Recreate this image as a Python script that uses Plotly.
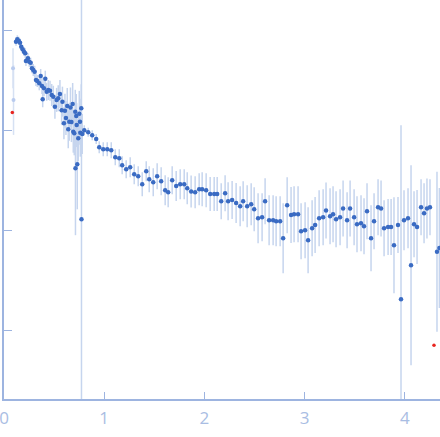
import numpy as np
import plotly.graph_objects as go

# --- DATA ---
# low-q block: dense, noisy points
q_low = [0.120, 0.133, 0.147, 0.160, 0.172, 0.186, 0.199, 0.212, 0.219, 0.239,
         0.252, 0.266, 0.279, 0.292, 0.306, 0.319, 0.332, 0.352, 0.366, 0.379,
         0.386, 0.399, 0.412, 0.426, 0.442, 0.459, 0.476, 0.492, 0.508, 0.525,
         0.541, 0.558, 0.575, 0.583, 0.598, 0.608, 0.618, 0.631, 0.641, 0.651,
         0.663, 0.673, 0.685, 0.691, 0.701, 0.711, 0.713, 0.721, 0.725, 0.731,
         0.741, 0.751, 0.758, 0.761, 0.771, 0.773, 0.781, 0.801]
i_low = [0.764, 0.807, 0.782, 0.746, 0.681, 0.641, 0.607, 0.585, 0.490, 0.521,
         0.481, 0.471, 0.415, 0.398, 0.382, 0.316, 0.309, 0.293, 0.347, 0.275,
         0.203, 0.261, 0.326, 0.241, 0.251, 0.247, 0.224, 0.215, 0.171, 0.200,
         0.208, 0.229, 0.158, 0.192, 0.117, 0.156, 0.132, 0.174, 0.102, 0.121,
         0.168, 0.120, 0.182, 0.0962, 0.0927, 0.152, 0.0415, 0.138, 0.112, 0.0454,
         0.0825, 0.145, 0.121, 0.0940, 0.165, 0.0128, 0.0912, 0.0993]
# error half-width in decades
e_low = [0.04, 0.04, 0.04, 0.04, 0.04, 0.04, 0.04, 0.05, 0.05, 0.05,
         0.05, 0.05, 0.05, 0.06, 0.06, 0.06, 0.06, 0.07, 0.07, 0.08,
         0.08, 0.08, 0.08, 0.09, 0.10, 0.10, 0.11, 0.11, 0.12, 0.12,
         0.13, 0.14, 0.15, 0.15, 0.16, 0.17, 0.17, 0.18, 0.19, 0.19,
         0.20, 0.20, 0.21, 0.21, 0.22, 0.22, 0.67, 0.22, 0.22, 0.45,
         0.23, 0.23, 0.23, 0.24, 0.24, 2.5, 0.20, 0.05]

# high-q block
q_high = [0.840, 0.880, 0.920, 0.950,
          0.990, 1.030, 1.070, 1.110, 1.150, 1.179, 1.219, 1.259, 1.299, 1.339, 1.379, 1.419,
          1.449, 1.489, 1.528, 1.568, 1.608, 1.638, 1.678, 1.718, 1.758, 1.798,
          1.828, 1.867, 1.907, 1.947, 1.977, 2.017, 2.057, 2.097, 2.127,
          2.167, 2.206, 2.236, 2.276, 2.316, 2.356, 2.386, 2.426, 2.466, 2.496,
          2.535, 2.575, 2.605, 2.645, 2.685, 2.715, 2.755,
          2.785,
          2.825, 2.864, 2.894, 2.934, 2.964, 3.004, 3.034, 3.074, 3.104, 3.144,
          3.184, 3.213, 3.253, 3.283, 3.313, 3.353, 3.383, 3.423, 3.453, 3.493,
          3.522, 3.562, 3.592, 3.622, 3.662, 3.692, 3.732, 3.762, 3.792, 3.832,
          3.862, 3.891, 3.931,
          3.961,
          3.991, 4.031, 4.061, 4.091, 4.121, 4.161, 4.191, 4.220, 4.250,
          4.320, 4.344]
i_high = [0.0947, 0.0885, 0.0811, 0.0673,
          0.0643, 0.0643, 0.0628, 0.0534, 0.0522, 0.0445, 0.0406, 0.0425, 0.0360, 0.0344, 0.0286, 0.0386,
          0.0321, 0.0300, 0.0344, 0.0307, 0.0250, 0.0238, 0.0314, 0.0275, 0.0286, 0.0286,
          0.0261, 0.0243, 0.0238, 0.0255, 0.0255, 0.0250, 0.0229, 0.0229, 0.0229,
          0.0194, 0.0233, 0.0194, 0.0199, 0.0186, 0.0173, 0.0194, 0.0173, 0.0181, 0.0161,
          0.0131, 0.0134, 0.0194, 0.0125, 0.0125, 0.0122, 0.0122,
          0.00829,
          0.0177, 0.0141, 0.0144, 0.0144, 0.00973, 0.00995, 0.00790, 0.0104, 0.0112, 0.0131,
          0.0134, 0.0157, 0.0137, 0.0144, 0.0128, 0.0134, 0.0164, 0.0125, 0.0164, 0.0134,
          0.0114, 0.0117, 0.0109, 0.0154, 0.00829, 0.0122, 0.0169, 0.0164, 0.0104, 0.0107,
          0.0107, 0.00702, 0.0112,
          0.00203,
          0.0125, 0.0131, 0.00443, 0.0114, 0.0107, 0.0169, 0.0147, 0.0164, 0.0169,
          0.00605, 0.00661]
e_high = [0.045, 0.05, 0.05, 0.06,
          0.07, 0.07, 0.08, 0.08, 0.09, 0.09, 0.09, 0.10, 0.10, 0.10, 0.12, 0.10,
          0.13, 0.14, 0.13, 0.14, 0.15, 0.15, 0.14, 0.15, 0.15, 0.15,
          0.16, 0.16, 0.16, 0.16, 0.17, 0.17, 0.17, 0.17, 0.17,
          0.18, 0.18, 0.19, 0.19, 0.20, 0.20, 0.20, 0.21, 0.21, 0.22,
          0.25, 0.24, 0.23, 0.25, 0.25, 0.25, 0.25,
          0.35,
          0.28, 0.28, 0.28, 0.28, 0.28, 0.28, 0.33, 0.28, 0.28, 0.28,
          0.28, 0.28, 0.28, 0.28, 0.28, 0.28, 0.28, 0.28, 0.28, 0.28,
          0.28, 0.28, 0.28, 0.28, 0.33, 0.28, 0.28, 0.28, 0.28, 0.28,
          0.28, 0.48, 0.28,
          1.74,
          0.30, 0.30, 1.00, 0.33, 0.37, 0.28, 0.30, 0.30, 0.28,
          0.80, 0.60]

# faded (excluded) and outlier points
q_faded = [0.090, 0.095]
i_faded = [0.415, 0.200]
e_faded = [0.20, 0.35]
q_out = [0.083, 4.290]
i_out = [0.150, 0.000703]

x_ticks = [0, 1, 2, 3, 4]
y_ticks = [1, 0.1, 0.01, 0.001]

BLUE = "#3a6bc3"
BAR = "#c6d5ee"
AXIS = "#9db4e0"
LABEL = "#a9bde3"

q = np.array(q_low + q_high)
inten = np.array(i_low + i_high)
edec = np.array(e_low + e_high)


def err(i, e):
    # bars drawn symmetric in log space
    i = np.asarray(i)
    e = np.asarray(e)
    return i * (10 ** e - 1), i * (1 - 10 ** (-e))


up, down = err(inten, edec)
fup, fdown = err(i_faded, e_faded)

fig = go.Figure()
fig.add_trace(go.Scatter(
    x=q_faded, y=i_faded, mode="markers",
    marker=dict(color="#b9cbee", size=4),
    error_y=dict(type="data", symmetric=False, array=fup, arrayminus=fdown,
                 color="#d6e1f3", thickness=1.5, width=0),
))
fig.add_trace(go.Scatter(
    x=q, y=inten, mode="markers",
    marker=dict(color=BLUE, size=4.5),
    error_y=dict(type="data", symmetric=False, array=up, arrayminus=down,
                 color=BAR, thickness=1.5, width=0),
))
fig.add_trace(go.Scatter(
    x=q_out, y=i_out, mode="markers",
    marker=dict(color="#e8251f", size=3.5),
))

fig.update_layout(
    width=440, height=437,
    margin=dict(l=4, r=0, t=0, b=38),
    paper_bgcolor="white", plot_bgcolor="white",
    showlegend=False,
    font=dict(family="Open Sans", size=17, color=LABEL),
    xaxis=dict(
        range=[0, 4.35], tickvals=x_ticks, ticks="inside", ticklen=7,
        tickcolor=AXIS, showline=True, linecolor=AXIS, linewidth=1.5,
        showgrid=False, zeroline=False, automargin=False,
        ticklabeloverflow="allow", ticklabelstandoff=3,
    ),
    yaxis=dict(
        type="log", range=[-3.69, 0.30], tickvals=y_ticks, ticks="inside",
        ticklen=8, tickcolor=AXIS, showticklabels=False, showline=True,
        linecolor=AXIS, linewidth=1.5, showgrid=False, zeroline=False,
        automargin=False,
    ),
)

fig.write_html("out.html", config={"displayModeBar": False},
               post_script="document.body.style.margin='0';")
